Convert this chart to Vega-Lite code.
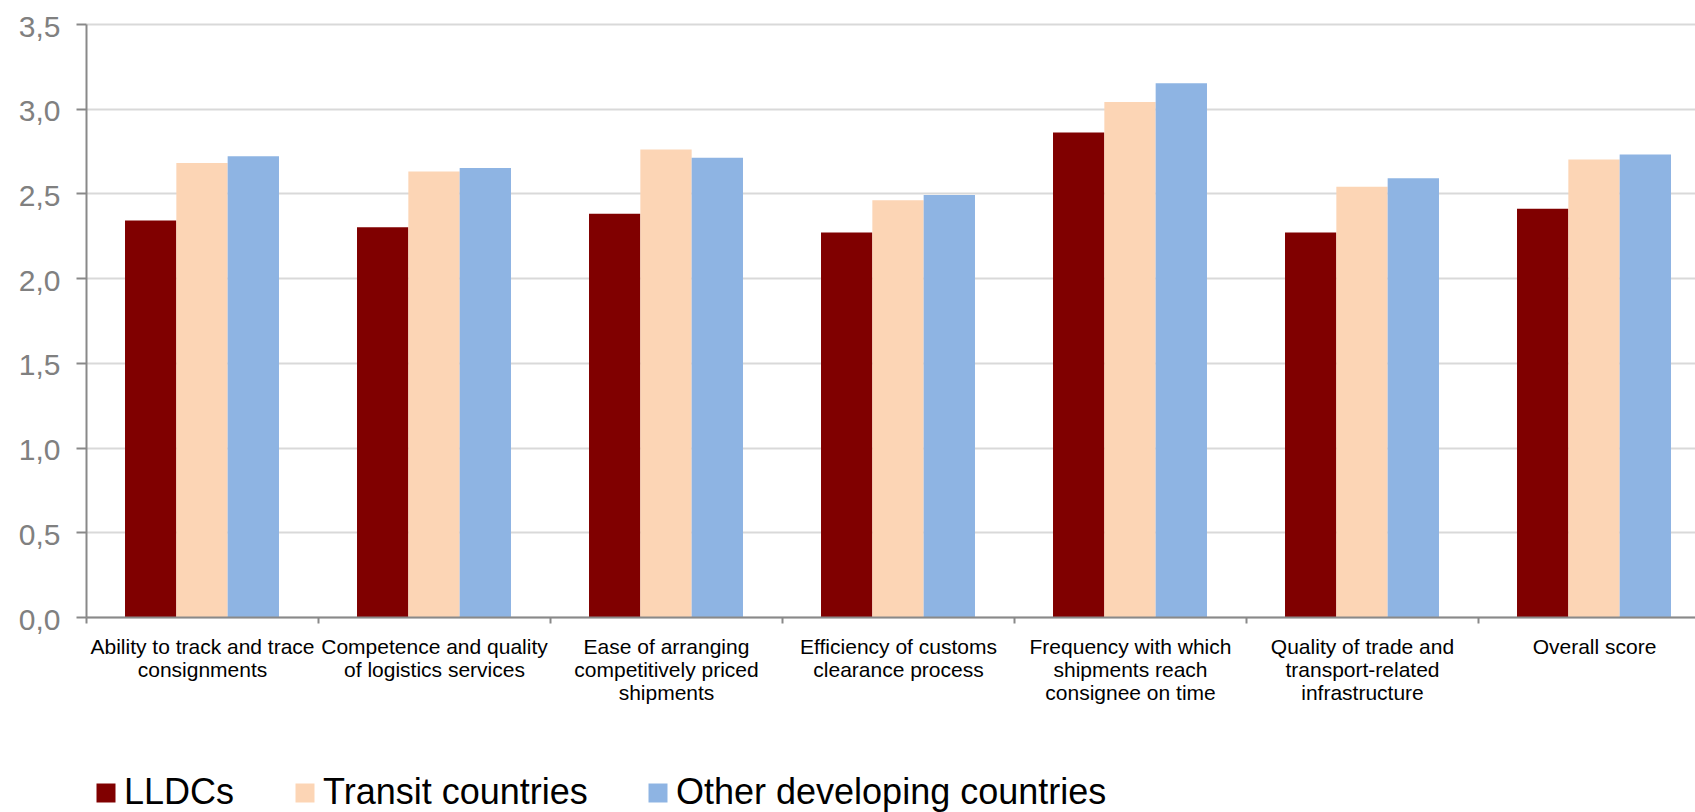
{
  "$schema": "https://vega.github.io/schema/vega-lite/v6.json",
  "width": 1609,
  "height": 593,
  "autosize": {"type": "none"},
  "padding": {"left": 86, "top": 24, "right": 0, "bottom": 195},
  "background": "white",
  "config": {"view": {"stroke": null}, "font": "Liberation Sans"},
  "data": {
    "values": [
      {"indicator": "Ability to track and trace consignments", "group": "LLDCs", "score": 2.34},
      {"indicator": "Ability to track and trace consignments", "group": "Transit countries", "score": 2.68},
      {"indicator": "Ability to track and trace consignments", "group": "Other developing countries", "score": 2.72},
      {"indicator": "Competence and quality of logistics services", "group": "LLDCs", "score": 2.30},
      {"indicator": "Competence and quality of logistics services", "group": "Transit countries", "score": 2.63},
      {"indicator": "Competence and quality of logistics services", "group": "Other developing countries", "score": 2.65},
      {"indicator": "Ease of arranging competitively priced shipments", "group": "LLDCs", "score": 2.38},
      {"indicator": "Ease of arranging competitively priced shipments", "group": "Transit countries", "score": 2.76},
      {"indicator": "Ease of arranging competitively priced shipments", "group": "Other developing countries", "score": 2.71},
      {"indicator": "Efficiency of customs clearance process", "group": "LLDCs", "score": 2.27},
      {"indicator": "Efficiency of customs clearance process", "group": "Transit countries", "score": 2.46},
      {"indicator": "Efficiency of customs clearance process", "group": "Other developing countries", "score": 2.49},
      {"indicator": "Frequency with which shipments reach consignee on time", "group": "LLDCs", "score": 2.86},
      {"indicator": "Frequency with which shipments reach consignee on time", "group": "Transit countries", "score": 3.04},
      {"indicator": "Frequency with which shipments reach consignee on time", "group": "Other developing countries", "score": 3.15},
      {"indicator": "Quality of trade and transport-related infrastructure", "group": "LLDCs", "score": 2.27},
      {"indicator": "Quality of trade and transport-related infrastructure", "group": "Transit countries", "score": 2.54},
      {"indicator": "Quality of trade and transport-related infrastructure", "group": "Other developing countries", "score": 2.59},
      {"indicator": "Overall score", "group": "LLDCs", "score": 2.41},
      {"indicator": "Overall score", "group": "Transit countries", "score": 2.70},
      {"indicator": "Overall score", "group": "Other developing countries", "score": 2.73}
    ]
  },
  "mark": {"type": "bar"},
  "encoding": {
    "x": {
      "field": "indicator",
      "type": "nominal",
      "sort": null,
      "scale": {"range": [0, 1624], "paddingInner": 0, "paddingOuter": 0},
      "axis": {
        "title": null,
        "labelAngle": 0,
        "labelFontSize": 21,
        "labelColor": "#000000",
        "labelLineHeight": 23,
        "labelLimit": 400,
        "labelOverlap": false,
        "labelPadding": 13,
        "tickBand": "extent",
        "tickSize": 6,
        "tickWidth": 2,
        "tickColor": "#898989",
        "domainColor": "#898989",
        "domainWidth": 2,
        "grid": false,
        "zindex": 1,
        "labelExpr": "datum.label == 'Ability to track and trace consignments' ? ['Ability to track and trace', 'consignments'] : datum.label == 'Competence and quality of logistics services' ? ['Competence and quality', 'of logistics services'] : datum.label == 'Ease of arranging competitively priced shipments' ? ['Ease of arranging', 'competitively priced', 'shipments'] : datum.label == 'Efficiency of customs clearance process' ? ['Efficiency of customs', 'clearance process'] : datum.label == 'Frequency with which shipments reach consignee on time' ? ['Frequency with which', 'shipments reach', 'consignee on time'] : datum.label == 'Quality of trade and transport-related infrastructure' ? ['Quality of trade and', 'transport-related', 'infrastructure'] : datum.label"
      }
    },
    "xOffset": {
      "field": "group",
      "sort": ["LLDCs", "Transit countries", "Other developing countries"],
      "scale": {"paddingInner": 0, "paddingOuter": 0.76}
    },
    "y": {
      "field": "score",
      "type": "quantitative",
      "scale": {"domain": [0, 3.5], "nice": false},
      "axis": {
        "title": null,
        "values": [0, 0.5, 1, 1.5, 2, 2.5, 3, 3.5],
        "labelExpr": "replace(format(datum.value, '.1f'), '.', ',')",
        "labelFontSize": 30,
        "labelColor": "#808080",
        "labelPadding": 16,
        "labelOffset": 3,
        "tickSize": 10,
        "tickWidth": 2,
        "tickColor": "#898989",
        "domainColor": "#898989",
        "domainWidth": 2,
        "gridColor": "#d9d9d9",
        "gridWidth": 2
      }
    },
    "color": {
      "field": "group",
      "type": "nominal",
      "sort": ["LLDCs", "Transit countries", "Other developing countries"],
      "scale": {
        "domain": ["LLDCs", "Transit countries", "Other developing countries"],
        "range": ["#800000", "#fcd5b5", "#8eb4e3"]
      },
      "legend": {
        "title": null,
        "orient": "none",
        "legendX": 2,
        "legendY": 751,
        "direction": "horizontal",
        "padding": 0,
        "labelFontSize": 36,
        "labelColor": "#000000",
        "labelLimit": 600,
        "labelOffset": 0,
        "symbolType": "square",
        "symbolSize": 361,
        "symbolStrokeWidth": 0,
        "columnPadding": 52
      }
    }
  }
}
